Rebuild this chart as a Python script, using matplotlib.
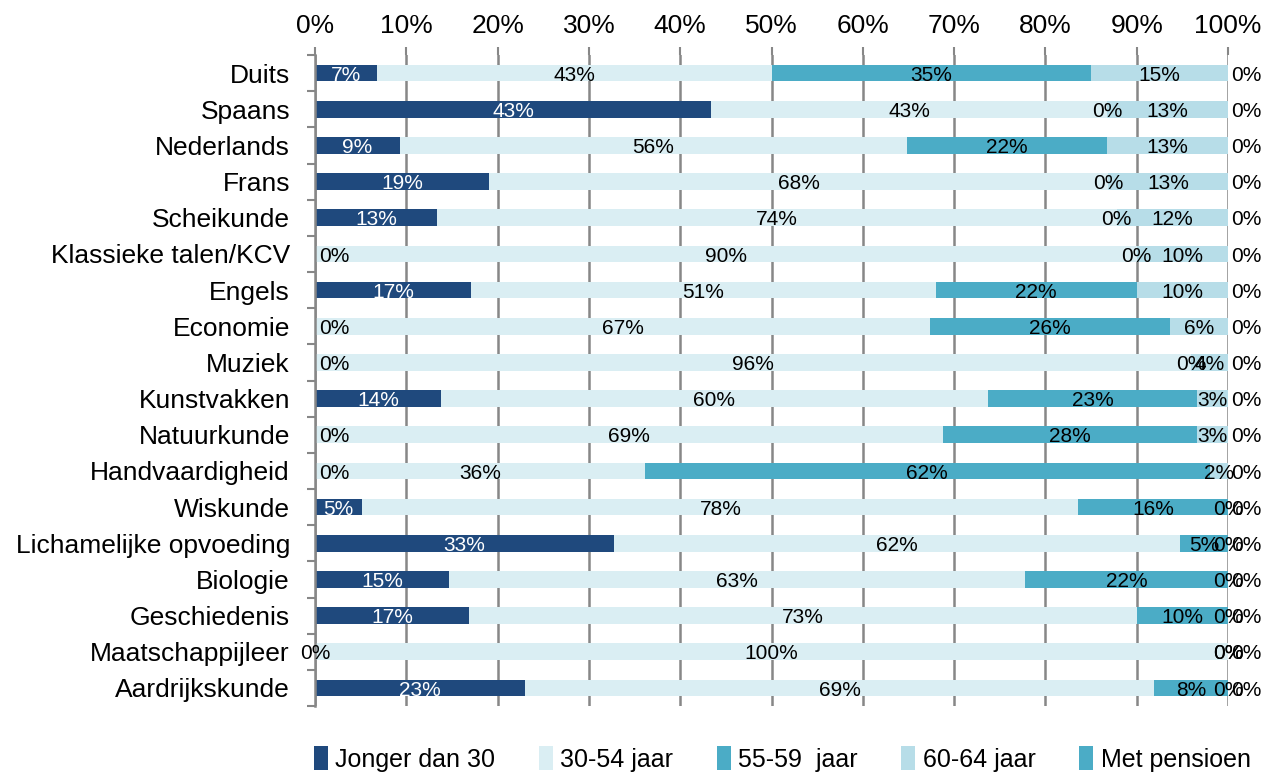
import numpy as np
import matplotlib
matplotlib.use("Agg")
import matplotlib.pyplot as plt
from matplotlib.patches import Patch
from matplotlib.ticker import FixedLocator, PercentFormatter

plt.rcParams["font.family"] = ["Liberation Sans", "DejaVu Sans"]

# Vakken, van boven naar beneden
subjects = [
    "Duits", "Spaans", "Nederlands", "Frans", "Scheikunde",
    "Klassieke talen/KCV", "Engels", "Economie", "Muziek", "Kunstvakken",
    "Natuurkunde", "Handvaardigheid", "Wiskunde", "Lichamelijke opvoeding",
    "Biologie", "Geschiedenis", "Maatschappijleer", "Aardrijkskunde",
]

series_names = ["Jonger dan 30", "30-54 jaar", "55-59  jaar", "60-64 jaar", "Met pensioen"]

# percentages per leeftijdsgroep (geschat uit de grafiek)
jonger_30 = [6.8, 43.4, 9.3, 19.1, 13.4, 0, 17.1, 0, 0, 13.8, 0, 0, 5.2, 32.7, 14.7, 16.9, 0, 23.0]
j30_54 = [43.2, 43.4, 55.5, 67.8, 74.4, 90.0, 50.9, 67.4, 96.0, 59.9, 68.8, 36.1, 78.4, 62.0, 63.1, 73.1, 100.0, 68.9]
j55_59 = [35.0, 0, 21.9, 0, 0, 0, 22.0, 26.2, 0, 22.9, 27.8, 61.9, 16.4, 5.3, 22.2, 10.0, 0, 8.1]
j60_64 = [15.0, 13.2, 13.3, 13.1, 12.2, 10.0, 10.0, 6.4, 4.0, 3.4, 3.4, 2.0, 0, 0, 0, 0, 0, 0]
pensioen = [0] * 18

colors = ["#1F497D", "#DAEEF3", "#4BACC6", "#B7DDE8", "#4BACC6"]
label_colors = ["white", "black", "black", "black", "black"]

data = np.array([jonger_30, j30_54, j55_59, j60_64, pensioen], dtype=float)
y = np.arange(len(subjects))

fig = plt.figure(figsize=(12.74, 7.76), dpi=100)
ax = fig.add_axes([315 / 1274, 1 - 706 / 776, 913 / 1274, 651 / 776])

lab_fs = 15
left = np.zeros(len(subjects))
for i, vals in enumerate(data):
    ax.barh(y, vals, left=left, height=0.46, color=colors[i], zorder=2)
    for k, v in enumerate(vals):
        txt = f"{v:.0f}%"
        yy = k + 0.06
        col = label_colors[i] if v > 0 else "black"
        if i == 4:
            # Met pensioen: label rechts naast de balk
            ax.text(100.3, yy, txt, ha="left", va="center",
                    fontsize=lab_fs, color=col, zorder=4, clip_on=False)
        elif i == 0 and v == 0 and data[1, k] < 100:
            ax.text(0.5, yy, txt, ha="left", va="center",
                    fontsize=lab_fs, color=col, zorder=4)
        else:
            ax.text(left[k] + v / 2, yy, txt, ha="center", va="center",
                    fontsize=lab_fs, color=col, zorder=4, clip_on=False)
    left += vals

ax.set_xlim(0, 100)
ax.set_ylim(len(subjects) - 0.5, -0.5)

ax.xaxis.tick_top()
ax.set_xticks(np.arange(0, 101, 10))
ax.xaxis.set_major_formatter(PercentFormatter(decimals=0))
ax.tick_params(axis="x", top=True, length=6, width=1.5, color="#878787",
               labelsize=19, pad=6)
ax.grid(axis="x", color="#878787", linewidth=1.8, zorder=1)

ax.set_yticks(y)
ax.set_yticklabels(subjects)
ax.yaxis.set_minor_locator(FixedLocator(np.arange(-0.5, len(subjects), 1)))
ax.tick_params(axis="y", which="major", length=0, labelsize=19, pad=18)
ax.tick_params(axis="y", which="minor", length=6, width=1.5, color="#878787")

for side in ["top", "right", "bottom"]:
    ax.spines[side].set_visible(False)
ax.spines["left"].set_color("#878787")
ax.spines["left"].set_linewidth(1.8)

handles = [Patch(facecolor=c, edgecolor="none") for c in colors]
fig.legend(handles, series_names, loc="center", bbox_to_anchor=(0.614, 0.022),
           ncol=5, frameon=False, fontsize=18, handlelength=0.55, handleheight=1.1,
           handletextpad=0.3, columnspacing=1.75)

fig.savefig("out.png", dpi=100)
